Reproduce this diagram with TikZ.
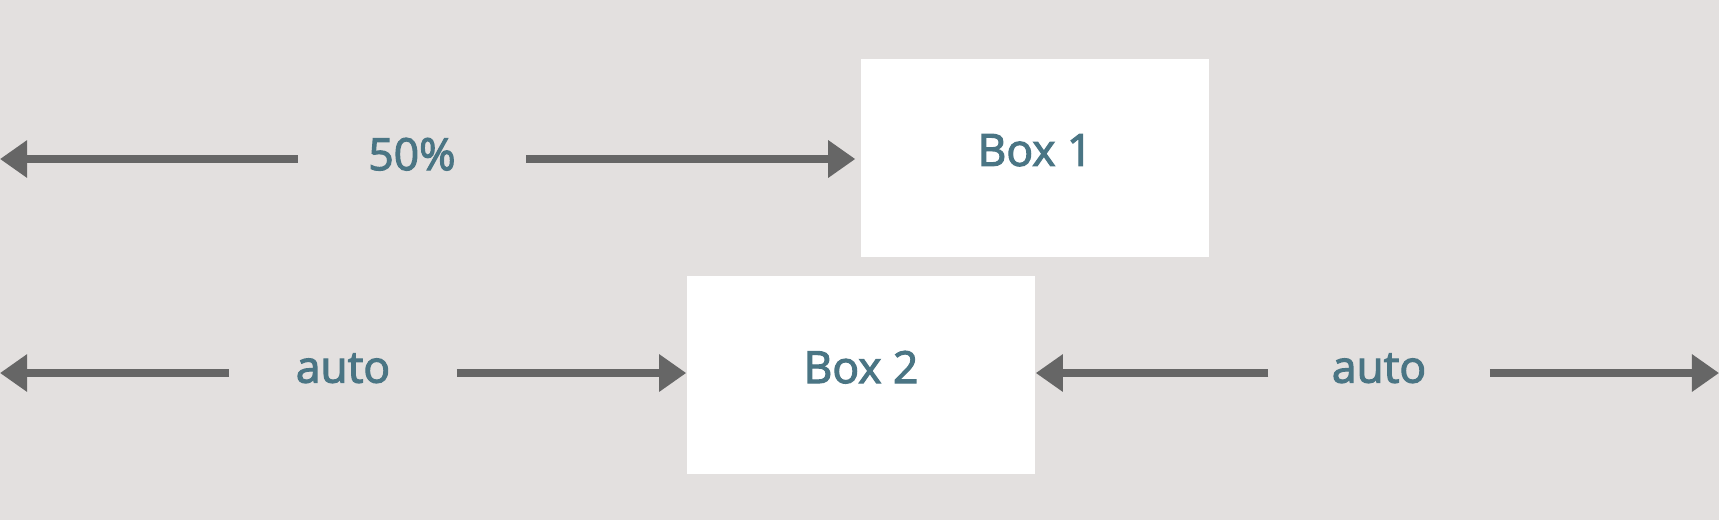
\documentclass[tikz,border=0pt]{standalone}
\usepackage{fontspec}
\setmainfont{Open Sans}[FakeBold=2.6]
\usepackage{xcolor}
\usepackage{tikz}
\usetikzlibrary{arrows.meta}
\definecolor{bgcol}{HTML}{E3E0DF}
\definecolor{arrcol}{HTML}{666666}
\definecolor{txtcol}{HTML}{4A7584}

\begin{document}
\begin{tikzpicture}[x=0.01cm, y=-0.01cm, >={Triangle[length=7.7pt,width=10.2pt]},
  box/.style={fill=white, minimum width=3.48cm, minimum height=1.98cm, inner sep=0pt, text=txtcol, text depth=0.16cm, font=\fontsize{12.6}{15}\selectfont},
  gaplabel/.style={inner sep=0pt, minimum height=0.5cm, text=txtcol, text depth=0.10cm, font=\fontsize{12.6}{15}\selectfont},
  conn/.style={->, line width=2.1pt, draw=arrcol}]

  \fill [bgcol] (0,0) rectangle (1719,520);
  \useasboundingbox (0,0) rectangle (1719,520);

  \node [box] (box1) at (1035,158) {Box 1};
  \node [box] (box2) at (861,375) {Box 2};

  \node [gaplabel, minimum width=2.27cm] (half) at (412,159) {50\%};
  \node [gaplabel, minimum width=2.26cm] (autoL) at (343,373) {auto};
  \node [gaplabel, minimum width=2.20cm] (autoR) at (1379,373) {auto};

  \coordinate (edgeL1) at (0,159);
  \coordinate (edgeL2) at (0,373);
  \coordinate (edgeR2) at (1719,373);

  \draw [conn] (half.west) -- (edgeL1);
  \draw [conn, shorten >=1.4pt] (half.east) -- (half.east -| box1.west);
  \draw [conn] (autoL.west) -- (edgeL2);
  \draw [conn] (autoL.east) -- (autoL.east -| box2.west);
  \draw [conn] (autoR.west) -- (autoR.west -| box2.east);
  \draw [conn] (autoR.east) -- (edgeR2);
\end{tikzpicture}
\end{document}
